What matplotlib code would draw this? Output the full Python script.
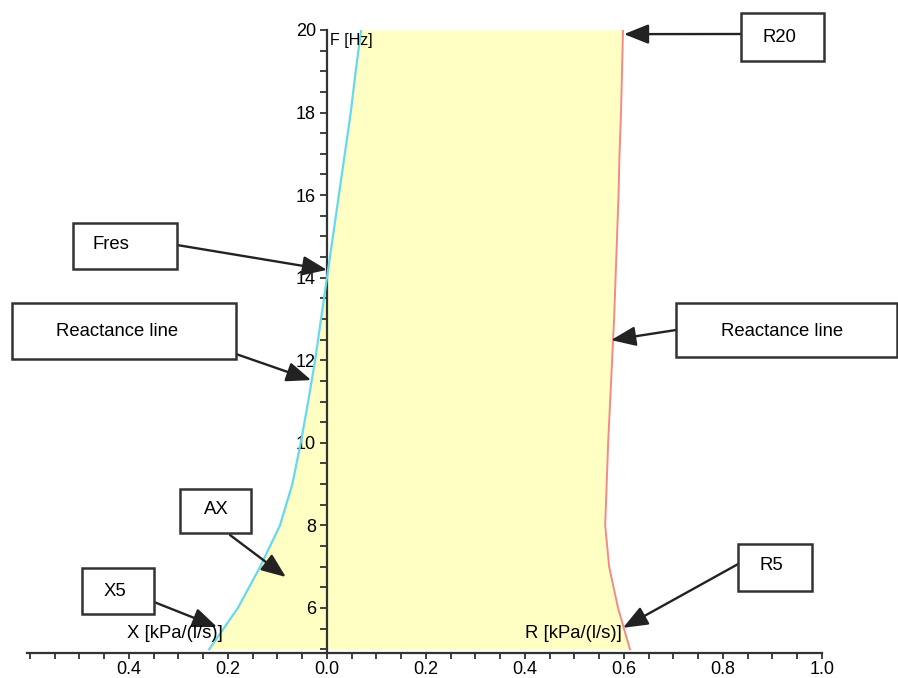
import matplotlib
matplotlib.use("Agg")
import matplotlib.pyplot as plt
from matplotlib.patches import Rectangle
from matplotlib.ticker import MultipleLocator, FuncFormatter, FixedLocator

plt.rcParams['font.family'] = ['Liberation Sans', 'DejaVu Sans']

# ---- data ----
freq = [5, 6, 7, 8, 9, 10, 11, 12, 13, 14, 15, 16, 17, 18, 19, 20]
reactance = [-0.238, -0.180, -0.135, -0.095, -0.070, -0.053, -0.038, -0.024,
             -0.012, 0.000, 0.012, 0.024, 0.036, 0.048, 0.058, 0.069]
resistance = [0.612, 0.588, 0.570, 0.562, 0.565, 0.568, 0.572, 0.576,
              0.580, 0.583, 0.586, 0.589, 0.591, 0.594, 0.596, 0.598]
x_major = [-0.6, -0.4, -0.2, 0.0, 0.2, 0.4, 0.6, 0.8, 1.0]
y_major = [6, 8, 10, 12, 14, 16, 18, 20]

# annotations: label, target (X/R, F)
ann_labels = ["R20", "Fres", "Reactance line", "Reactance line", "AX", "X5", "R5"]
ann_targets = [(0.600, 19.90), (0.0, 14.19), (-0.032, 11.52), (0.574, 12.49),
               (-0.083, 6.75), (-0.222, 5.54), (0.598, 5.52)]

W, H = 898, 678
fig = plt.figure(figsize=(W / 100, H / 100), dpi=100)
ax_l, ax_r, ax_t, ax_b = 27, 822, 30, 653
ax = fig.add_axes([ax_l / W, 1 - ax_b / H, (ax_r - ax_l) / W, (ax_b - ax_t) / H])
ax.set_xlim(-0.606, 1.0)
ax.set_ylim(4.91, 20)

ax.fill_betweenx(freq, reactance, resistance, color='#FFFFC4', zorder=1, lw=0)
ax.plot(reactance, freq, color='#66D8F0', lw=1.6, zorder=3)
ax.plot(resistance, freq, color='#F28A8A', lw=1.4, zorder=3)

for s in ['top', 'right']:
    ax.spines[s].set_visible(False)
ax.spines['left'].set_position(('data', 0))
for s in ['left', 'bottom']:
    ax.spines[s].set_color('#333333')
    ax.spines[s].set_linewidth(1.6)
    ax.spines[s].set_zorder(2.5)

ax.xaxis.set_major_locator(FixedLocator(x_major))
ax.xaxis.set_minor_locator(MultipleLocator(0.05))
ax.xaxis.set_major_formatter(FuncFormatter(
    lambda v, p: "" if abs(v + 0.6) < 1e-6 else f"{abs(v):.1f}"))
ax.yaxis.set_major_locator(FixedLocator(y_major))
ax.yaxis.set_minor_locator(MultipleLocator(0.5))
ax.yaxis.set_major_formatter(FuncFormatter(lambda v, p: f"{int(round(v))}"))

ax.tick_params(axis='x', which='both', direction='out', length=4, width=1.3,
               color='#333333', labelsize=13, pad=2)
ax.tick_params(axis='y', which='both', direction='out', length=5, width=1.3,
               color='#333333', labelsize=13, pad=3)
ax.set_facecolor('none')

# axis captions
fig.text(330 / W, 1 - 41 / H, "F [Hz]", fontsize=11.5, ha='left', va='center')
fig.text(223 / W, 1 - 634 / H, "X [kPa/(l/s)]", fontsize=13.3, ha='right', va='center')
fig.text(622 / W, 1 - 633 / H, "R [kPa/(l/s)]", fontsize=13.3, ha='right', va='center')

# boxes (pixel layout): x0, y0, x1, y1, text centre, arrow start
boxes = [
    (741, 13, 824, 61, (779, 38), (741, 34)),
    (73, 223, 177, 269, (111, 245), (177, 245)),
    (12, 303, 236, 359, (117, 332), (236, 354)),
    (676, 303, 897, 357, (782, 331), (676, 330)),
    (180, 489, 251, 533, (216, 510), (230, 535)),
    (82, 568, 154, 614, (115, 592), (154, 602)),
    (738, 544, 812, 591, (771, 566), (740, 563)),
]

for label, target, (x0, y0, x1, y1, tc, ast) in zip(ann_labels, ann_targets, boxes):
    ax.annotate("", xy=target, xycoords='data',
                xytext=(ast[0], H - ast[1]), textcoords='figure pixels',
                arrowprops=dict(arrowstyle='-|>,head_length=0.75,head_width=0.3',
                                mutation_scale=20, lw=1.7, color='#222222',
                                shrinkA=0, shrinkB=0),
                annotation_clip=False, zorder=5)
    fig.add_artist(Rectangle((x0 / W, 1 - y1 / H), (x1 - x0) / W, (y1 - y0) / H,
                             transform=fig.transFigure, facecolor='white',
                             edgecolor='#333333', lw=1.8, zorder=6))
    fig.text(tc[0] / W, 1 - tc[1] / H, label, fontsize=13.3, ha='center',
             va='center', zorder=7)

fig.savefig("out.png", dpi=100)
